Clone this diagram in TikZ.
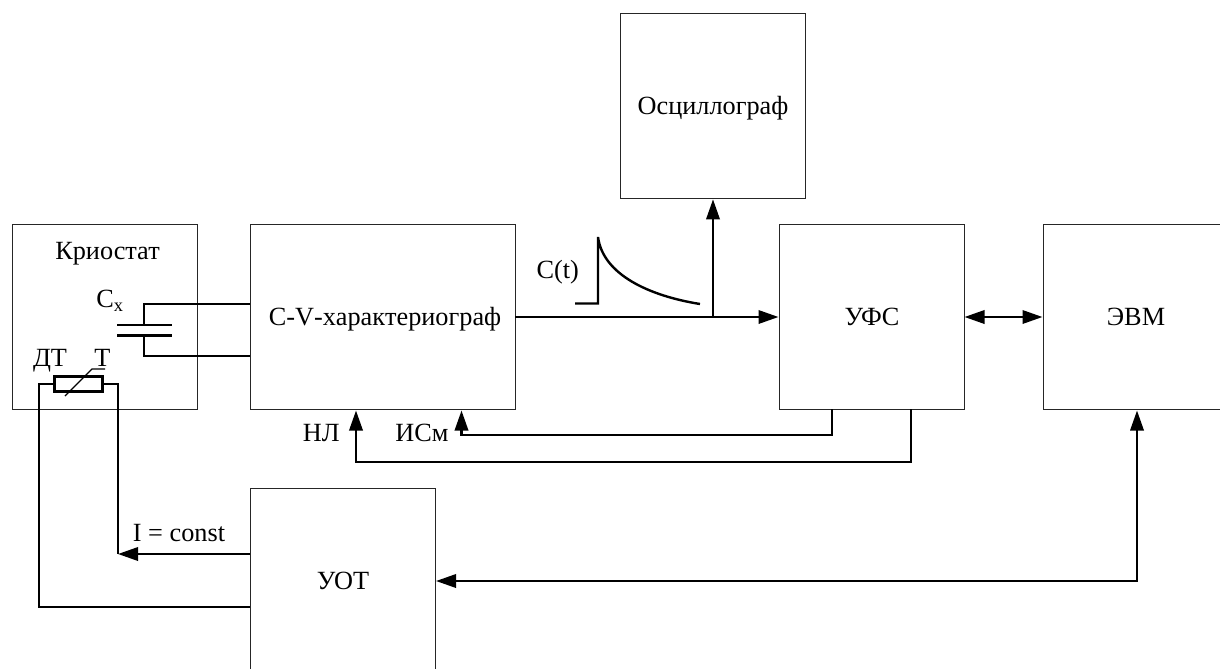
\documentclass[tikz,border=0pt]{standalone}
\usepackage{fontspec}
\setmainfont{Liberation Serif}
\usetikzlibrary{arrows.meta}
\tikzset{
  blockbox/.style={draw=black!85,line width=0.75pt,rectangle,inner sep=0pt,anchor=north west,text height=17pt,text depth=5pt,font=\fontsize{19.7}{22}\selectfont},
  wire/.style={draw=black,line width=1.8pt},
  sig/.style={wire,-{Triangle[length=15pt,width=10pt]}},
  bisig/.style={wire,{Triangle[length=15pt,width=10pt]}-{Triangle[length=15pt,width=10pt]}},
  lbl/.style={inner sep=0pt,anchor=base,font=\fontsize{19.7}{22}\selectfont},
  smallpart/.style={draw=black,line width=1.8pt,rectangle,inner sep=0pt}
}
\begin{document}
\begin{tikzpicture}[x=0.75pt,y=-0.75pt]
\useasboundingbox (0,0) rectangle (1220,668);
\clip (0,0) rectangle (1220,668);
% blocks
\node[blockbox,minimum width=138.75pt,minimum height=138.75pt] (kr) at (12,224) {};
\node[blockbox,minimum width=198.75pt,minimum height=138.75pt] (cv) at (250,224) {\hspace*{3pt}\addfontfeature{Kerning=Off}C-V-характериограф};
\node[blockbox,minimum width=138.75pt,minimum height=138.75pt] (osc) at (620,13) {Осциллограф};
\node[blockbox,minimum width=138.75pt,minimum height=138.75pt] (ufs) at (779,224) {УФС};
\node[blockbox,minimum width=138.75pt,minimum height=138.75pt] (evm) at (1043,224) {ЭВМ};
\node[blockbox,minimum width=138.75pt,minimum height=138.75pt] (uot) at (250,488) {УОТ};
% labels
\node[lbl] (lkr) at (107.5,259) {Криостат};
\node[lbl] (lcx) at (110,307) {C\textsubscript{x}};
\node[lbl] (ldt) at (50,366) {ДТ};
\node[lbl] (lt) at (102.5,366) {Т};
\node[lbl] (lct) at (557.7,278) {C(t)};
\node[lbl] (lnl) at (321.3,441.7) {НЛ};
\node[lbl] (lism) at (422,441.7) {ИСм};
\node[lbl] (lconst) at (179,541.7) {I = const};
% capacitor
\coordinate (p1a) at (117,325); \coordinate (p1b) at (172,325);
\coordinate (p2a) at (117,335.5); \coordinate (p2b) at (172,335.5);
\coordinate (p1m) at (144,325); \coordinate (p2m) at (144,335.5);
\coordinate (cvt) at (250,304); \coordinate (cvb) at (250,356);
\draw[wire] (p1a) -- (p1b);
\draw[wire] (p2a) -- (p2b);
\draw[wire] (p1m) |- (cvt);
\draw[wire] (p2m) |- (cvb);
% thermistor
\node[smallpart,minimum width=36pt,minimum height=11.25pt] (res) at (78.5,384) {};
\coordinate (slA) at (65,396); \coordinate (slB) at (92,369); \coordinate (slC) at (105,369);
\draw[line width=1pt] (slA) -- (slB) -- (slC);
\coordinate (uotL) at (250,607);
\coordinate (uotI) at (250,554);
\coordinate (lw) at (39,384);
\coordinate (rw) at (118,384);
\coordinate (rwb) at (118,554);
\draw[wire] (res.west) -- (lw) |- (uotL);
\draw[wire] (res.east) -- (rw) -- (rwb);
\draw[sig] (uotI) -- (rwb);
% main signal
\coordinate (cvr) at (515,317);
\coordinate (ufsl) at (778.5,317);
\coordinate (br) at (713,317);
\coordinate (oscb) at (713,199.3);
\draw[sig] (cvr) -- (ufsl);
\draw[sig] (br) -- (oscb);
% pulse
\coordinate (pa) at (575,303.5); \coordinate (pb) at (598,303.5); \coordinate (pc) at (598,237); \coordinate (pd) at (700,304);
\draw[wire] (pa) -- (pb) -- (pc) .. controls (603,275) and (650,296) .. (pd);
% feedback
\coordinate (ufsA) at (832,409); \coordinate (ufsB) at (911,409);
\coordinate (cvA) at (461.5,410.5); \coordinate (cvB) at (356,410.5);
\coordinate (elA) at (461.5,435); \coordinate (elB) at (356,462);
\draw[sig] (ufsA) |- (elA) -- (cvA);
\draw[sig] (ufsB) |- (elB) -- (cvB);
% bus
\coordinate (ufsr) at (964.5,317); \coordinate (evml) at (1042.5,317);
\draw[bisig] (ufsr) -- (evml);
\coordinate (uotr) at (436,581); \coordinate (evmb) at (1137,410.5); \coordinate (elC) at (1137,581);
\draw[bisig] (uotr) -- (elC) -- (evmb);
\end{tikzpicture}
\end{document}
